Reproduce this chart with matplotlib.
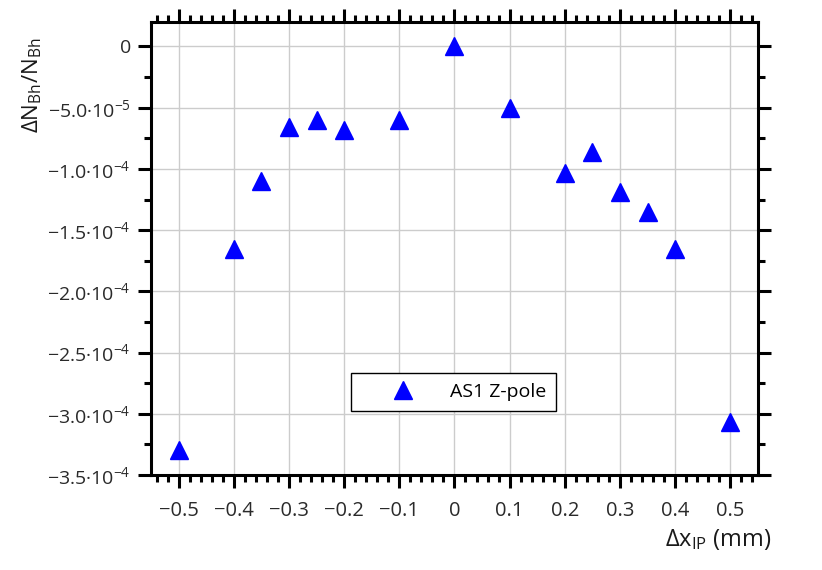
import matplotlib
matplotlib.use('Agg')
import matplotlib.pyplot as plt
from matplotlib.ticker import MultipleLocator, FuncFormatter

plt.rcParams['font.family'] = ['Open Sans', 'DejaVu Sans']
plt.rcParams['mathtext.fontset'] = 'custom'
plt.rcParams['mathtext.rm'] = 'Open Sans'
plt.rcParams['mathtext.it'] = 'Open Sans:italic'
plt.rcParams['mathtext.bf'] = 'Open Sans:bold'

# Data
dx_ip = [-0.5, -0.4, -0.35, -0.3, -0.25, -0.2, -0.1, 0.0,
         0.1, 0.2, 0.25, 0.3, 0.35, 0.4, 0.5]
dn_bh = [-3.30e-4, -1.655e-4, -1.10e-4, -6.6e-5, -6.0e-5, -6.85e-5, -6.0e-5, 0.0,
         -5.05e-5, -1.03e-4, -8.65e-5, -1.19e-4, -1.35e-4, -1.655e-4, -3.07e-4]
series_label = 'AS1 Z-pole'

fig = plt.figure(figsize=(8.22, 5.70), dpi=100)
ax = fig.add_axes([0.1837, 0.1667, 0.7383, 0.7947])

ax.plot(dx_ip, dn_bh, linestyle='none', marker='^', markersize=13.5,
        color='#0000ff', label=series_label, zorder=3)

ax.set_xlim(-0.55, 0.55)
ax.set_ylim(-3.5e-4, 2e-5)

ax.xaxis.set_major_locator(MultipleLocator(0.1))
ax.xaxis.set_minor_locator(MultipleLocator(0.02))
ax.yaxis.set_major_locator(MultipleLocator(5e-5))
ax.yaxis.set_minor_locator(MultipleLocator(2.5e-5))


def xfmt(v, pos):
    if abs(v) < 1e-9:
        return '0'
    return ('%.1f' % v).replace('-', '\u2212')


def yfmt(v, pos):
    if abs(v) < 1e-12:
        return '0'
    exp = -4 if abs(v) >= 1e-4 - 1e-12 else -5
    mant = ('%.1f' % (v / 10 ** exp)).replace('-', '\u2212')
    return mant + '\u00b710$^{%d}$' % exp


ax.xaxis.set_major_formatter(FuncFormatter(xfmt))
ax.yaxis.set_major_formatter(FuncFormatter(yfmt))

ax.grid(True, which='major', color='#cccccc', linewidth=1.0, zorder=0)
ax.set_axisbelow(True)

for s in ax.spines.values():
    s.set_linewidth(2.2)

ax.tick_params(which='both', direction='out', top=True, right=True,
               width=2.2, labelsize=14, labelcolor='#2a2a2a')
ax.tick_params(which='major', length=9.5)
ax.tick_params(which='minor', length=5)
ax.tick_params(axis='x', which='major', pad=9, labelsize=14.5)
ax.tick_params(axis='y', which='major', pad=5)

ax.set_xlabel(r'$\mathrm{\Delta x_{IP}}$ (mm)', fontsize=17, color='#1a1a1a',
              ha='right', va='center')
ax.xaxis.set_label_coords(1.023, -0.143)
ax.set_ylabel(r'$\mathrm{\Delta N_{Bh}/N_{Bh}}$', fontsize=16, color='#1a1a1a',
              va='center')
ax.yaxis.set_label_coords(-0.195, 0.86)

leg = ax.legend(loc='center', bbox_to_anchor=(0.499, 0.183), fancybox=False,
                edgecolor='black', framealpha=1, fontsize=14, handlelength=4.3,
                borderpad=0.5, handletextpad=0.3, borderaxespad=0)
leg.get_frame().set_linewidth(1.0)

fig.savefig('out.png', dpi=100)
